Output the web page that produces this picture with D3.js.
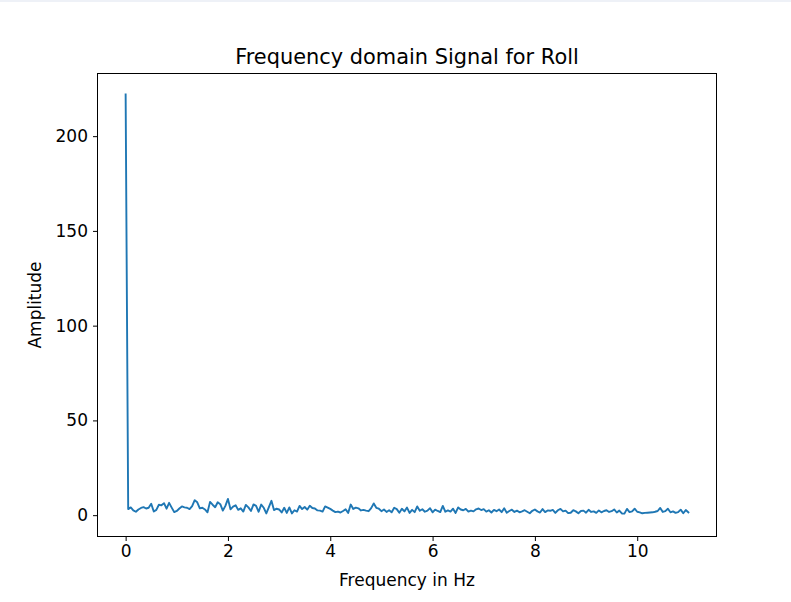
<!DOCTYPE html>
<html>
<head>
<meta charset="utf-8">
<script src="https://cdn.jsdelivr.net/npm/d3@7"></script>
<style>
  html, body { margin: 0; padding: 0; background: #fff; }
  svg { display: block; }
  text { font-family: "DejaVu Sans", sans-serif; fill: #000; }
</style>
</head>
<body>
<svg id="chart" width="791" height="602"></svg>
<script>
const title = "Frequency domain Signal for Roll";
const xLabel = "Frequency in Hz";
const yLabel = "Amplitude";
const xTicks = [0, 2, 4, 6, 8, 10];
const yTicks = [0, 50, 100, 150, 200];

const frequency = [
  0.00,0.05,0.10,0.15,0.20,0.25,0.30,0.35,0.40,0.45,0.50,0.55,0.60,0.65,0.70,0.75,0.80,0.85,0.90,0.95,
  1.00,1.05,1.10,1.15,1.20,1.25,1.30,1.35,1.40,1.45,1.50,1.55,1.60,1.65,1.70,1.75,1.80,1.85,1.90,1.95,
  2.00,2.05,2.10,2.15,2.20,2.25,2.30,2.35,2.40,2.45,2.50,2.55,2.60,2.65,2.70,2.75,2.80,2.85,2.90,2.95,
  3.00,3.05,3.10,3.15,3.20,3.25,3.30,3.35,3.40,3.45,3.50,3.55,3.60,3.65,3.70,3.75,3.80,3.85,3.90,3.95,
  4.00,4.05,4.10,4.15,4.20,4.25,4.30,4.35,4.40,4.45,4.50,4.55,4.60,4.65,4.70,4.75,4.80,4.85,4.90,4.95,
  5.00,5.05,5.10,5.15,5.20,5.25,5.30,5.35,5.40,5.45,5.50,5.55,5.60,5.65,5.70,5.75,5.80,5.85,5.90,5.95,
  6.00,6.05,6.10,6.15,6.20,6.25,6.30,6.35,6.40,6.45,6.50,6.55,6.60,6.65,6.70,6.75,6.80,6.85,6.90,6.95,
  7.00,7.05,7.10,7.15,7.20,7.25,7.30,7.35,7.40,7.45,7.50,7.55,7.60,7.65,7.70,7.75,7.80,7.85,7.90,7.95,
  8.00,8.05,8.10,8.15,8.20,8.25,8.30,8.35,8.40,8.45,8.50,8.55,8.60,8.65,8.70,8.75,8.80,8.85,8.90,8.95,
  9.00,9.05,9.10,9.15,9.20,9.25,9.30,9.35,9.40,9.45,9.50,9.55,9.60,9.65,9.70,9.75,9.80,9.85,9.90,9.95,
  10.00,10.05,10.10,10.15,10.20,10.25,10.30,10.35,10.40,10.45,10.50,10.55,10.60,10.65,10.70,10.75,10.80,10.85,10.90,10.95,
  11.00
];

const amplitude = [
  222, 3.2, 4.1, 2.5, 1.8, 3.0, 3.8, 4.2, 3.5, 3.9, 6.0, 1.9, 2.8, 5.5, 5.2, 6.3, 3.4, 6.5, 4.0, 1.6,
  2.2, 3.5, 4.6, 4.1, 3.9, 3.2, 4.8, 7.9, 6.8, 3.6, 3.9, 3.0, 1.5, 7.0, 5.5, 4.2, 6.8, 5.8, 2.4, 4.9,
  8.6, 3.1, 4.5, 5.2, 2.8, 3.6, 1.9, 5.4, 4.1, 2.2, 5.7, 4.9, 1.8, 5.6, 3.9, 0.9, 4.2, 7.6, 2.7, 3.4,
  3.0, 1.4, 3.9, 1.2, 4.1, 0.9, 2.6, 1.9, 4.9, 3.2, 4.3, 2.9, 5.0, 3.8, 3.5, 2.5, 2.4, 1.9, 4.6, 4.0,
  3.3, 2.4, 1.6, 1.9, 1.4, 2.2, 3.1, 1.2, 5.6, 3.3, 4.0, 3.6, 2.5, 2.8, 2.4, 2.1, 3.7, 6.2, 3.9, 3.4,
  2.1, 3.0, 1.7, 2.6, 1.5, 3.9, 3.2, 1.3, 3.4, 2.0, 4.0, 1.2, 2.8, 1.6, 4.6, 2.3, 3.1, 1.8, 2.4, 3.7,
  1.5, 2.9, 2.2, 1.6, 4.9, 1.8, 2.5, 1.9, 3.4, 1.2, 4.1, 3.0, 2.6, 3.3, 1.9, 2.4, 2.0, 3.1, 3.5, 2.7,
  3.2, 1.9, 2.6, 1.4, 2.8, 2.1, 3.0, 1.6, 3.6, 1.3, 2.2, 2.9, 1.7, 2.4, 1.5, 2.0, 2.6, 1.8, 1.0, 2.3,
  3.0, 2.0, 1.4, 3.2, 1.6, 2.5, 2.3, 2.8, 1.2, 2.6, 3.3, 2.0, 2.4, 1.1, 1.3, 2.6, 2.0, 1.0, 2.2, 2.4,
  1.3, 2.8, 1.7, 2.0, 1.2, 2.5, 1.5, 2.2, 2.6, 1.7, 2.1, 3.0, 1.4, 2.4, 0.9, 0.8, 3.3, 1.6, 2.0, 3.4,
  1.8, 1.5, 1.0, 1.2, 1.3, 1.4, 1.5, 1.8, 2.2, 3.8, 1.7, 2.1, 3.4, 1.5, 2.0, 1.2, 1.6, 2.9, 1.0, 2.7,
  1.5
];

const svg = d3.select("#chart");
const W = 791, H = 602;
const plotLeft = 97.5, plotRight = 716.5, plotTop = 73.5, plotBottom = 536.5;

// faint top strip seen in reference
svg.append("rect").attr("x", 0).attr("y", 0).attr("width", W).attr("height", 2).attr("fill", "#eef1f7");

const data = frequency.map((f, i) => ({ f, a: amplitude[i] }));
const xMin = d3.min(frequency), xMax = d3.max(frequency);
const yMin = d3.min(amplitude), yMax = d3.max(amplitude);
const xPad = (xMax - xMin) * 0.05, yPad = (yMax - yMin) * 0.05;

const x = d3.scaleLinear().domain([xMin - xPad, xMax + xPad]).range([plotLeft, plotRight]);
const y = d3.scaleLinear().domain([yMin - yPad - 1.0, yMax + yPad]).range([plotBottom, plotTop]);

const line = d3.line().x(d => x(d.f)).y(d => y(d.a));

svg.append("path")
  .datum(data)
  .attr("d", line)
  .attr("fill", "none")
  .attr("stroke", "#1f77b4")
  .attr("stroke-width", 1.9)
  .attr("stroke-linejoin", "round")
  .attr("stroke-linecap", "square");

const fontSize = 17;
const xAxis = d3.axisBottom(x).tickValues(xTicks).tickFormat(d3.format("d")).tickSizeOuter(0).tickSize(4.5).tickPadding(4);
const yAxis = d3.axisLeft(y).tickValues(yTicks).tickFormat(d3.format("d")).tickSizeOuter(0).tickSize(4.5).tickPadding(5);

const gx = svg.append("g").attr("transform", `translate(0,${plotBottom})`).call(xAxis);
const gy = svg.append("g").attr("transform", `translate(${plotLeft},0)`).call(yAxis);
[gx, gy].forEach(a => {
  a.select(".domain").remove();
  a.selectAll("line").attr("stroke", "#000").attr("stroke-width", 1);
  a.selectAll("text").style("font-family", "DejaVu Sans, sans-serif").style("font-size", fontSize + "px").attr("fill", "#000");
});

// frame
svg.append("rect")
  .attr("x", plotLeft).attr("y", plotTop)
  .attr("width", plotRight - plotLeft).attr("height", plotBottom - plotTop)
  .attr("fill", "none").attr("stroke", "#000").attr("stroke-width", 1);

svg.append("text")
  .attr("x", (plotLeft + plotRight) / 2).attr("y", 63.5)
  .attr("text-anchor", "middle")
  .style("font-size", "20.9px")
  .text(title);

svg.append("text")
  .attr("x", (plotLeft + plotRight) / 2).attr("y", 585.5)
  .attr("text-anchor", "middle")
  .style("font-size", fontSize + "px")
  .text(xLabel);

svg.append("text")
  .attr("transform", `translate(41,${(plotTop + plotBottom) / 2}) rotate(-90)`)
  .attr("text-anchor", "middle")
  .style("font-size", fontSize + "px")
  .text(yLabel);
</script>
</body>
</html>
